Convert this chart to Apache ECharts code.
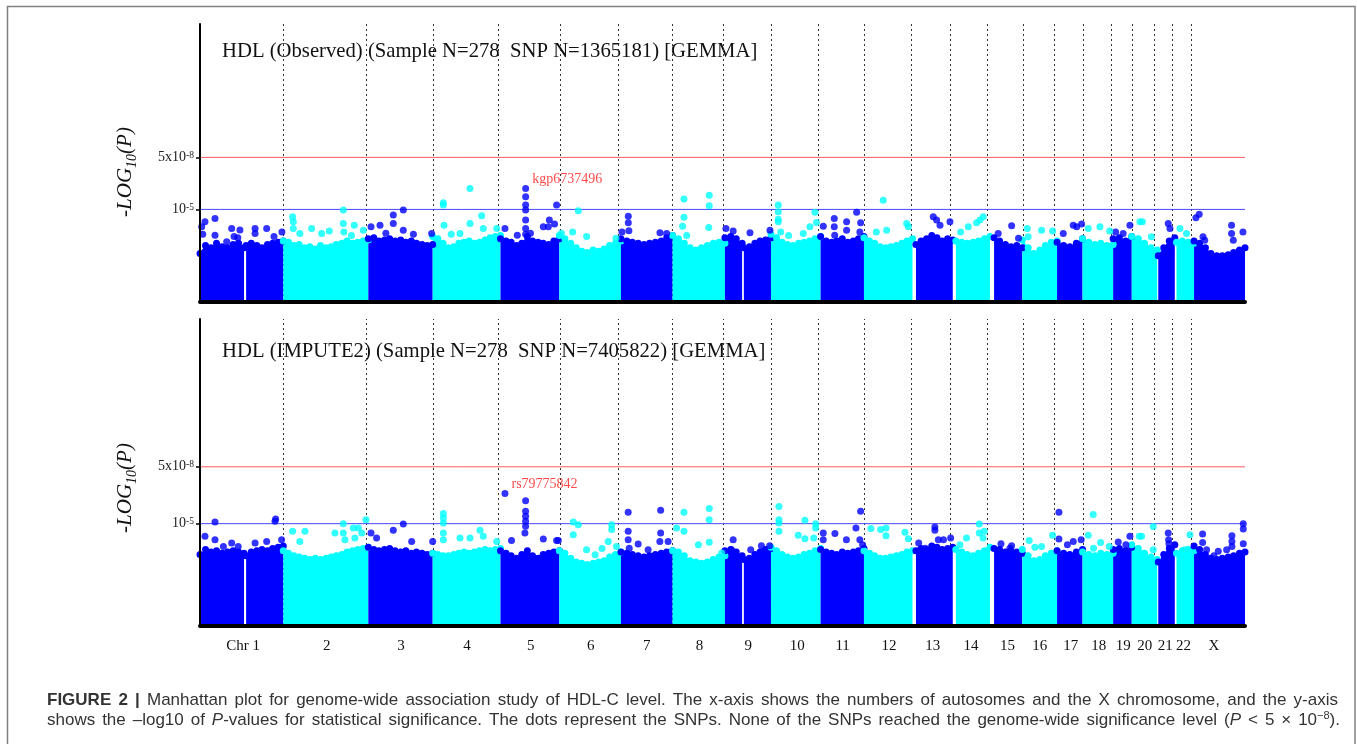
<!DOCTYPE html>
<html><head><meta charset="utf-8">
<script src="https://cdn.jsdelivr.net/npm/echarts@6/dist/echarts.min.js"></script>
<style>html,body{margin:0;padding:0;background:#fff}#c{width:1357px;height:744px}</style>
</head><body><div id="c"></div>
<script>
// ---------------- DATA ----------------
const chrLabels = ['Chr 1','2','3','4','5','6','7','8','9','10','11','12','13','14','15','16','17','18','19','20','21','22','X'];
const chrLabelPos = [125,368,584,776,961,1135,1298,1451,1593,1735,1867,2002,2129,2240,2346,2440,2530,2611,2682,2745,2804,2857,2946];
const chrBoundaries = [242,482,678,867,1048,1216,1373,1519,1661,1795,1930,2065,2181,2288,2391,2483,2566,2647,2708,2772,2825,2879];
const xExtent = [0, 3036];
const gwsLine = 7.30103;   // -log10(5e-8)
const suggLine = 5;        // -log10(1e-5)
const yTickValues = [5, 7.30103];

// chromosome of each segment (1p/1q and 9p/9q are split at the centromere gap); 23 = X
const segChr = [1,1,2,3,4,5,6,7,8,9,9,10,11,12,13,14,15,16,17,18,19,20,21,22,23];
// genomic positions (cumulative Mb) where the upper edge of the dense SNP mass was read
const segPos = [
 [0,16,32,48,64,80,96,112,128],
 [134,149,165,180,196,211,227,242],
 [242,257,273,288,304,319,335,350,366,381,396,412,427,443,458,474,489],
 [489,505,520,536,551,567,583,598,614,629,645,660,676],
 [676,691,706,721,737,752,767,782,797,812,828,843,858,873],
 [873,889,904,920,935,951,966,982,997,1013,1028,1044],
 [1044,1060,1077,1093,1109,1125,1142,1158,1174,1190,1207,1223],
 [1223,1240,1256,1273,1290,1306,1323,1340,1356,1373],
 [1373,1390,1407,1424,1441,1457,1474,1491,1508,1525],
 [1525,1542,1558,1575],
 [1580,1596,1612,1627,1643,1659],
 [1659,1675,1691,1707,1723,1739,1755,1771,1787,1803],
 [1803,1819,1835,1850,1866,1882,1898,1913,1929],
 [1929,1945,1960,1976,1992,2007,2023,2039,2054,2070],
 [2080,2095,2111,2126,2141,2156,2172,2187],
 [2196,2213,2229,2246,2262,2279,2295],
 [2307,2323,2340,2356,2373,2389],
 [2389,2406,2423,2440,2456,2473,2490],
 [2490,2509,2527,2546,2564],
 [2564,2582,2600,2617,2635,2653],
 [2653,2671,2689,2707],
 [2707,2726,2744,2763,2781],
 [2784,2800,2816,2832],
 [2837,2854,2871,2888],
 [2888,2904,2921,2937,2954,2970,2987,3003,3020,3036]
];
// -log10(P) of the upper edge of the dense mass, Observed panel
const obsBulk = [
 [3.05,3.4,3.3,3.5,3.35,3.3,3.45,3.5,3.3],
 [3.4,3.5,3.4,3.3,3.45,3.5,3.55,3.6],
 [3.6,3.55,3.4,3.45,3.3,3.35,3.25,3.4,3.3,3.35,3.45,3.5,3.6,3.5,3.55,3.6,3.65],
 [3.7,3.75,3.6,3.65,3.7,3.6,3.65,3.55,3.6,3.5,3.45,3.4,3.45],
 [3.8,3.7,3.5,3.3,3.35,3.5,3.55,3.6,3.5,3.55,3.65,3.75,3.8,3.85],
 [3.7,3.6,3.55,3.4,3.5,3.8,3.6,3.55,3.5,3.45,3.6,3.7],
 [3.85,3.7,3.5,3.3,3.15,3.1,3.2,3.15,3.25,3.4,3.5,3.6],
 [3.7,3.6,3.55,3.5,3.45,3.5,3.55,3.6,3.75,3.85],
 [3.85,3.7,3.5,3.3,3.2,3.3,3.4,3.5,3.55,3.5],
 [3.75,3.8,3.7,3.5],
 [3.3,3.35,3.5,3.6,3.65,3.75],
 [3.9,3.75,3.55,3.45,3.4,3.5,3.55,3.6,3.7,3.8],
 [3.8,3.6,3.55,3.6,3.7,3.55,3.6,3.7,3.8],
 [3.75,3.6,3.5,3.35,3.3,3.35,3.4,3.5,3.6,3.7],
 [3.45,3.6,3.7,3.85,3.75,3.6,3.7,3.65],
 [3.6,3.55,3.5,3.55,3.6,3.7,3.8],
 [3.75,3.6,3.45,3.35,3.4,3.3],
 [3.65,3.3,3.05,3.2,3.4,3.55,3.6],
 [3.55,3.4,3.35,3.5,3.7],
 [3.7,3.55,3.45,3.5,3.4,3.45],
 [3.7,3.75,3.6,3.8],
 [3.8,3.7,3.5,3.3,3.2],
 [2.95,3.3,3.6,3.75],
 [3.55,3.6,3.55,3.5],
 [3.6,3.5,3.3,3.05,2.95,2.95,3.0,3.1,3.2,3.3]
];
// -log10(P) of the upper edge of the dense mass, IMPUTE2 panel
const impBulk = [
 [3.75,3.95,3.85,3.9,3.8,3.85,3.9,3.85,3.8],
 [3.7,3.85,3.9,3.95,3.9,4.0,4.05,4.1],
 [3.9,3.8,3.7,3.65,3.6,3.55,3.6,3.55,3.6,3.65,3.7,3.75,3.85,3.9,3.95,4.0,4.05],
 [4.05,3.95,3.9,3.95,4.0,3.9,3.85,3.9,3.8,3.85,3.8,3.75,3.8],
 [3.8,3.75,3.7,3.7,3.75,3.8,3.85,3.8,3.85,3.9,3.95,3.9,3.95,4.0],
 [3.9,3.8,3.7,3.6,3.75,3.9,3.7,3.6,3.75,3.8,3.85,3.9],
 [3.9,3.8,3.6,3.45,3.4,3.35,3.4,3.45,3.5,3.65,3.75,3.85],
 [3.85,3.8,3.75,3.7,3.65,3.7,3.75,3.8,3.85,3.9],
 [3.9,3.85,3.7,3.5,3.45,3.4,3.45,3.55,3.65,3.7],
 [3.9,3.95,3.85,3.7],
 [3.55,3.6,3.75,3.85,3.95,4.0],
 [4.05,3.9,3.75,3.65,3.6,3.65,3.75,3.8,3.9,4.0],
 [3.95,3.85,3.8,3.75,3.85,3.8,3.85,3.9,4.0],
 [3.9,3.8,3.7,3.6,3.6,3.65,3.7,3.75,3.85,3.9],
 [3.9,4.0,3.95,4.1,4.05,3.95,4.0,4.05],
 [3.95,3.85,3.75,3.7,3.8,3.9,4.05],
 [4.0,3.95,3.85,3.9,3.85,3.8],
 [3.95,3.7,3.5,3.55,3.7,3.8,3.9],
 [3.9,3.8,3.75,3.85,3.95],
 [3.85,3.75,3.7,3.8,3.75,3.8],
 [3.95,4.0,3.9,4.05],
 [4.15,4.0,3.8,3.65,3.55],
 [3.45,3.75,4.0,4.15],
 [3.8,3.9,3.95,3.9],
 [4.1,3.95,3.75,3.6,3.55,3.6,3.65,3.7,3.8,3.85]
];
// individual SNPs standing above the mass: [position Mb, -log10(P)]
const obsDots = [
 [14.5,4.45],[5,4.23],[8,3.9],[43.6,4.6],[43.6,3.86],[77.5,3.57],[92,4.16],[99,3.8],[116,4.09],[110,3.75],[160,4.16],[160,3.94],[193.7,4.16],[215,3.8],[238,4.0],
 [269,4.68],[271,4.45],[271,4.16],[290,3.94],[324.4,4.16],[353.5,3.94],[375.7,4.05],[416.4,4.97],[416.4,4.38],[418,4.0],[448.3,4.3],[474.5,4.08],[440,3.85],
 [496.8,4.23],[523,4.3],[561.6,4.75],[561.6,4.38],[590.6,4.97],[590.6,4.08],[620,3.9],[673,3.94],[540,3.95],
 [706.9,5.3],[706.9,5.19],[709,4.3],[755.3,3.94],[784.4,5.93],[784.4,4.38],[818.3,4.72],[823,4.16],[862,4.16],[730,3.9],
 [886,4.16],[921.8,3.86],[946.1,5.56],[946.1,5.19],[946.1,4.97],[946.1,4.53],[946.1,4.16],[946.1,3.9],[997.4,4.23],[1012,4.23],[1015,4.53],[1030,4.35],[1036,5.19],[960,3.95],
 [1099,4.94],[1082.6,4.0],[1123.3,3.8],[1208.5,3.72],[1050,3.95],
 [1244.3,4.7],[1244.3,4.41],[1246,4.06],[1226,4.0],[1336.3,3.97],[1355.7,3.94],
 [1406,5.46],[1406,4.65],[1402,4.26],[1479.5,5.63],[1479.5,5.16],[1478,4.2],[1414,3.85],
 [1528,4.16],[1549,4.05],[1597.8,3.97],[1655.9,4.08],
 [1680,5.19],[1680,4.9],[1680,4.57],[1680,4.45],[1687,4.0],[1710,3.85],[1752.6,3.94],[1786.6,4.87],[1791,4.42],[1772,4.23],
 [1810.8,4.26],[1842.7,4.6],[1842.7,4.23],[1844,3.86],[1878.6,4.45],[1878.6,4.08],[1907.7,4.87],[1919.3,4.41],[1917,4.0],
 [1985,5.41],[1995,4.08],[1965,4.0],[2053,4.38],[2058,4.23],
 [2130.3,4.68],[2140,4.53],[2150,4.3],[2178.8,4.45],
 [2209.8,4.0],[2232,4.23],[2256.2,4.41],[2275.5,4.68],[2266,4.53],
 [2358,4.28],[2319,3.94],[2378,3.72],
 [2403.4,4.16],[2445.1,4.08],[2477,4.05],[2406,3.79],
 [2508,3.94],[2537,4.3],[2547,4.23],[2561.3,4.35],
 [2580.6,4.16],[2614.5,4.23],[2643,4.05],
 [2660,4.0],[2682,3.94],[2701.7,4.3],
 [2730.7,4.45],[2738,4.45],[2764,3.79],
 [2813,4.38],[2818,4.16],
 [2847,4.16],[2866,3.94],
 [2893.4,4.63],[2903,4.79],[2914,3.79],[2919,3.64],[2997,4.3],[2997,3.94],[3002,3.64],[3030,4.0]
];
const impDots = [
 [43.6,5.07],[14.5,4.49],[43.6,4.35],[68,4.08],[92,4.22],[111,4.08],[160,4.22],[193.7,4.28],[217.9,5.1],[219.8,5.19],[237,4.35],
 [269,4.69],[305,4.69],[290,4.28],[392,4.62],[416.4,5.0],[416.4,4.62],[421,4.35],[445.4,4.82],[460,4.82],[470,4.62],[482.2,5.16],[450,4.42],
 [496.8,4.62],[513,4.42],[561.6,4.73],[590.6,4.99],[615,4.28],[676,4.28],
 [707,5.41],[707,5.23],[707,5.03],[707,4.62],[707,4.35],[755.3,4.42],[784.4,4.42],[813.4,4.73],[823,4.49],[862,4.28],
 [905,4.32],[946,5.93],[946,5.5],[946,5.3],[946,5.1],[946,4.9],[944,4.62],[997.4,4.38],[1041,4.32],[1036,4.32],
 [1084.5,5.07],[1099,4.96],[1084.5,4.55],[1123,3.94],[1148,3.74],[1168,3.99],[1196,4.96],[1196,4.76],[1186,4.28],[1210,4.08],
 [1244,5.46],[1244,4.69],[1244,4.35],[1247,4.01],[1273,4.18],[1338.3,5.54],[1338.3,4.62],[1336,4.28],[1360,4.28],[1302,3.94],
 [1384.7,4.82],[1406,5.46],[1406,4.69],[1448,4.15],[1479.5,5.61],[1479.5,5.16],[1479.5,4.25],[1516,3.81],
 [1549,4.35],[1544,3.94],[1600,3.94],[1631,4.11],[1655,4.11],
 [1682,5.69],[1682,5.16],[1682,5.03],[1682,4.69],[1738,4.53],[1757.5,5.14],[1757.5,4.39],[1788.6,5.0],[1788.6,4.82],[1783,4.42],
 [1810.7,4.62],[1810.7,4.35],[1844.6,4.6],[1878,4.35],[1905.7,4.82],[1919.3,5.5],[1917,4.35],[1925,4.15],
 [1949.3,4.8],[1977.4,4.76],[1993,4.82],[1993,4.51],[2048,4.65],[2058,4.39],
 [2135,4.86],[2135,4.73],[2145,4.35],[2180.8,4.42],[2088,4.22],[2107,4.01],[2160,4.35],
 [2207.8,4.15],[2227,4.42],[2264,4.99],[2264,4.62],[2278.5,4.69],[2275,4.42],
 [2327,4.19],[2353,4.01],[2358,4.11],
 [2409,4.32],[2425.7,4.05],[2445,4.08],[2477,4.53],
 [2495.4,5.46],[2495.4,4.38],[2537,4.28],[2560,4.35],[2520,4.15],
 [2580.6,4.53],[2595,5.37],[2596,4.01],[2616.5,4.24],[2641.5,4.08],
 [2667.7,4.26],[2701.7,4.49],[2690,4.15],
 [2728.8,4.49],[2735.6,4.49],[2769.4,4.89],[2769.4,3.94],
 [2813,4.62],[2814,4.35],[2815,4.19],
 [2876,4.55],[2861.4,3.94],
 [2912.8,4.58],[2912.8,4.24],[2924.5,3.94],[2945.7,3.7],[2958.3,3.88],[2982.6,3.94],[2998,4.51],[2998,4.28],[2998,4.08],[3031,5.0],[3031,4.78],[3031,4.19]
];
// most significant SNP of each panel: [name, position Mb, -log10(P)]
const obsTopSnp = ['kgp6737496', 946.1, 5.93];
const impTopSnp = ['rs79775842', 886, 6.22];

const panelTitles = [
 'HDL (Observed) (Sample N=278  SNP N=1365181) [GEMMA]',
 'HDL (IMPUTE2) (Sample N=278  SNP N=7405822) [GEMMA]'
];
const captionLine1 = ['{b|FIGURE}','{b|2}','{b||}','Manhattan','plot','for','genome-wide','association','study','of','HDL-C','level.','The','x-axis','shows','the','numbers','of','autosomes','and','the','X','chromosome,','and','the','y-axis'];
const captionLine2 = ['shows','the','\u2013log10','of','{i|P}-values','for','statistical','significance.','The','dots','represent','the','SNPs.','None','of','the','SNPs','reached','the','genome-wide','significance','level','({i|P}','<','5','\u00d7','10{s|\u22128}).'];

// ---------------- CHART ----------------
const SERIF = 'Liberation Serif';
const SANS = 'Liberation Sans';
const BLUE = '#0000ff', CYAN = '#00ffff';
function chrColor(c){ return (c % 2 === 1) ? BLUE : CYAN; }
function chrAt(x){
  for (let i = 0; i < segPos.length; i++) { const p = segPos[i]; if (x <= p[p.length-1]) return segChr[i]; }
  return 23;
}

const grids = [
  {left:200, top:24, width:1045, height:277},
  {left:200, top:319, width:1045, height:306}
];
const yRanges = [[0.95, 13.2], [0.9, 13.28]];

const xAxes = [0,1].map(g => ({
  type:'value', gridIndex:g, min:xExtent[0], max:xExtent[1], offset:1, z:10,
  axisLine:{show:true, onZero:false, lineStyle:{color:'#000', width:4}},
  axisTick:{show:false}, splitLine:{show:false},
  axisLabel: g === 0 ? {show:false} : {
    show:true, customValues: chrLabelPos, margin:13,
    formatter: v => { const i = chrLabelPos.indexOf(v); return i >= 0 ? chrLabels[i] : ''; },
    fontFamily: SERIF, fontSize: 15, color:'#111'
  }
}));
const yAxes = [0,1].map(g => ({
  type:'value', gridIndex:g, min:yRanges[g][0], max:yRanges[g][1], z:10,
  axisLine:{show:true, onZero:false, lineStyle:{color:'#000', width:2}},
  axisTick:{show:true, customValues: yTickValues, length:4, lineStyle:{color:'#000', width:1.5}},
  splitLine:{show:false},
  axisLabel:{
    show:true, customValues: yTickValues, margin:6,
    formatter: v => (Math.abs(v - 7.30103) < 0.01 ? '{b|5x10}{s|-8}' : '{b|10}{s|-5}'),
    rich:{
      b:{fontFamily:SERIF, fontSize:14, lineHeight:14, color:'#222', verticalAlign:'bottom'},
      s:{fontFamily:SERIF, fontSize:9.5, lineHeight:9, color:'#222', verticalAlign:'top', padding:[0,0,10,0]}
    }
  }
}));

const series = [];
[0,1].forEach(g => {
  const bulk = g === 0 ? obsBulk : impBulk;
  const dots = g === 0 ? obsDots : impDots;
  const topSnp = g === 0 ? obsTopSnp : impTopSnp;
  // significance thresholds (genome-wide and suggestive)
  [[gwsLine, '#ff5a5a'], [suggLine, '#4747ff']].forEach(t => {
    series.push({type:'line', xAxisIndex:g, yAxisIndex:g, silent:true, z:1, symbol:'none',
      data: [[xExtent[0], t[0]], [xExtent[1], t[0]]], lineStyle:{color:t[1], width:1}});
  });
  segPos.forEach((xs, i) => {
    const col = chrColor(segChr[i]);
    const s = {
      type:'line', xAxisIndex:g, yAxisIndex:g, silent:true, z:2,
      data: xs.map((x, j) => [x, bulk[i][j]]),
      symbol:'circle', symbolSize:7, showSymbol:true, showAllSymbol:true,
      itemStyle:{color:col}, lineStyle:{color:col, width:1},
      areaStyle:{color:col, opacity:1, origin:'start'}
    };
    if (i === 0) {
      s.markLine = {silent:true, symbol:'none', z:1, animation:false, label:{show:false},
        lineStyle:{type:[2,3], color:'#333', width:1}, emphasis:{disabled:true},
        data: chrBoundaries.map(v => ({xAxis:v}))};
    }
    series.push(s);
  });
  [BLUE, CYAN].forEach(col => {
    series.push({
      type:'scatter', xAxisIndex:g, yAxisIndex:g, silent:true, z:3,
      data: dots.filter(d => chrColor(chrAt(d[0])) === col),
      symbolSize:7, itemStyle:{color:col}
    });
  });
  series.push({
    type:'scatter', xAxisIndex:g, yAxisIndex:g, silent:true, z:4,
    data:[{name: topSnp[0], value:[topSnp[1], topSnp[2]]}],
    symbolSize:7, itemStyle:{color: chrColor(chrAt(topSnp[1]))},
    label:{show:true, formatter:'{b}', position:[10,-6], align:'left', verticalAlign:'middle',
      color:'#ff1a1a', fontFamily:SERIF, fontSize:14}
  });
});

// caption, justified word by word between two x limits
const capSize = 17;
const measCtx = document.createElement('canvas').getContext('2d');
const capStyles = {
  n:{w:'normal', st:'normal', sz:capSize},
  b:{w:'bold', st:'normal', sz:capSize},
  i:{w:'normal', st:'italic', sz:capSize},
  s:{w:'normal', st:'normal', sz:11}
};
function wordWidth(word){
  const re = /\{(\w+)\|([^}]*)\}/g; let last = 0, m, w = 0;
  const parts = [];
  while ((m = re.exec(word))) { if (m.index > last) parts.push(['n', word.slice(last, m.index)]); parts.push([m[1], m[2]]); last = re.lastIndex; }
  if (last < word.length) parts.push(['n', word.slice(last)]);
  parts.forEach(p => { const s = capStyles[p[0]]; measCtx.font = s.st + ' ' + s.w + ' ' + s.sz + 'px "' + SANS + '"'; w += measCtx.measureText(p[1]).width; });
  return w;
}
function justify(words, x0, x1, y){
  const ws = words.map(wordWidth);
  const total = ws.reduce((a, b) => a + b, 0);
  const gap = (x1 - x0 - total) / (words.length - 1);
  let x = x0; const els = [];
  words.forEach((w, k) => {
    els.push({type:'text', x:x, y:y, silent:true, style:{
      text:w, fontFamily:SANS, fontSize:capSize, lineHeight:20, fill:'#333', align:'left', verticalAlign:'middle',
      rich:{
        b:{fontFamily:SANS, fontSize:capSize, fontWeight:'bold', lineHeight:20, fill:'#333'},
        i:{fontFamily:SANS, fontSize:capSize, fontStyle:'italic', lineHeight:20, fill:'#333'},
        s:{fontFamily:SANS, fontSize:11, lineHeight:11, verticalAlign:'top', fill:'#333'}
      }}});
    x += ws[k] + gap;
  });
  return els;
}

const yTitleRich = {
  a:{fontFamily:SERIF, fontStyle:'italic', fontSize:21, lineHeight:24, verticalAlign:'top', fill:'#111'},
  s:{fontFamily:SERIF, fontStyle:'italic', fontSize:14, lineHeight:14, padding:[10,0,0,0], verticalAlign:'top', fill:'#111'}
};
const graphic = [
  {type:'rect', silent:true, shape:{x:7.5, y:6.5, width:1347.5, height:760}, style:{fill:'none', stroke:'#808080', lineWidth:1.5}, z:-1},
  {type:'text', x:222, y:52, silent:true, style:{text:panelTitles[0], fontFamily:SERIF, fontSize:20.7, fill:'#111', align:'left', verticalAlign:'middle'}},
  {type:'text', x:222, y:352, silent:true, style:{text:panelTitles[1], fontFamily:SERIF, fontSize:20.7, fill:'#111', align:'left', verticalAlign:'middle'}},
  {type:'text', x:127, y:172, rotation:Math.PI/2, silent:true, style:{text:'{a|-LOG}{s|10}{a|(P)}', rich:yTitleRich, align:'center', verticalAlign:'middle'}},
  {type:'text', x:127, y:488, rotation:Math.PI/2, silent:true, style:{text:'{a|-LOG}{s|10}{a|(P)}', rich:yTitleRich, align:'center', verticalAlign:'middle'}}
].concat(justify(captionLine1, 47, 1338, 700)).concat(justify(captionLine2, 47, 1340, 720));

const chart = echarts.init(document.getElementById('c'));
chart.setOption({
  animation:false,
  backgroundColor:'#fff',
  grid: grids,
  xAxis: xAxes,
  yAxis: yAxes,
  series: series,
  graphic: graphic
});
</script>
</body></html>
